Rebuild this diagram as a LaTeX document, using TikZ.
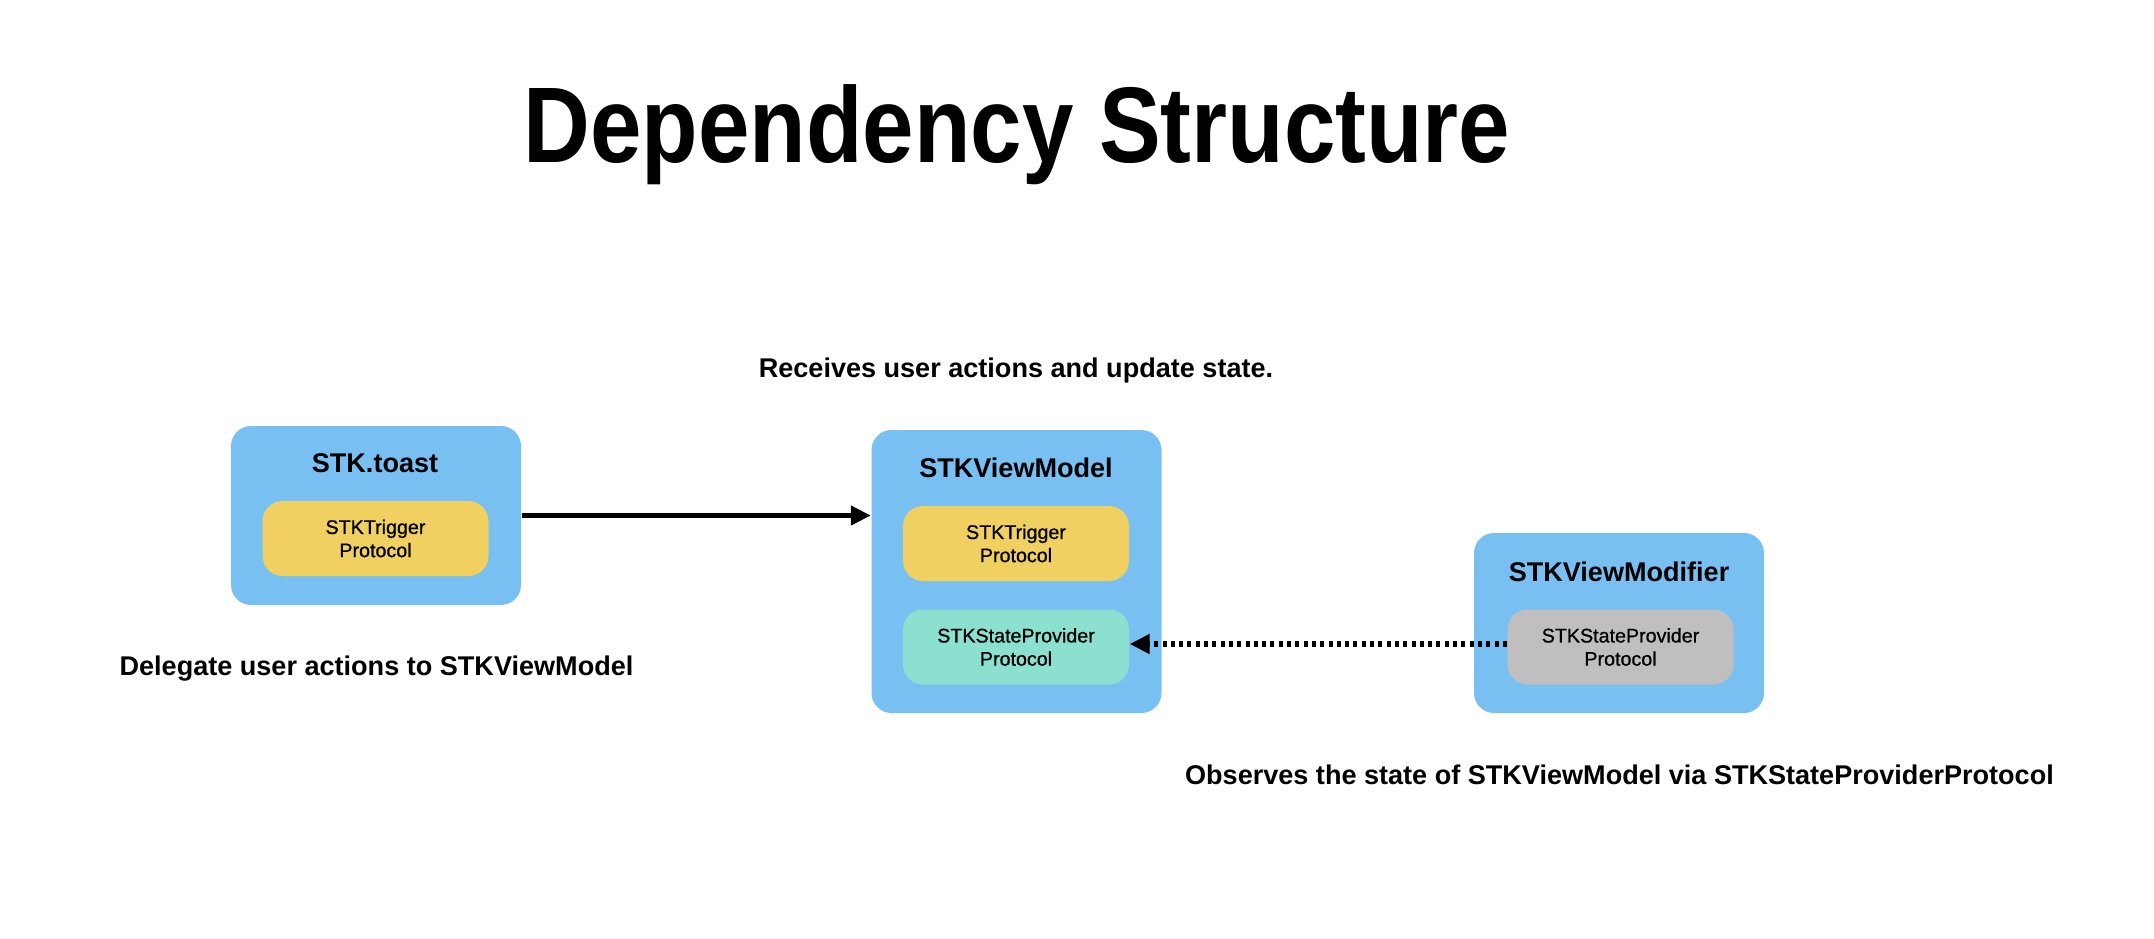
\documentclass[tikz,border=0pt]{standalone}
\usepackage{fontspec}
\setmainfont{Liberation Sans}
\newfontfamily\titlefont[FakeStretch=0.86]{Liberation Sans}
\newfontfamily\subfont[FakeBold=0.8]{Liberation Sans}
\usetikzlibrary{arrows.meta}

\definecolor{boxblue}{RGB}{121,192,242}
\definecolor{trigyellow}{RGB}{240,208,96}
\definecolor{stateteal}{RGB}{140,224,208}
\definecolor{modgray}{RGB}{191,191,191}

\begin{document}
\begin{tikzpicture}[->,>={Triangle[length=0.2cm,width=0.19cm]},
  main node/.style={rectangle,rounded corners=0.2cm,fill=boxblue,minimum width=2.9cm,inner sep=0pt},
  sub node/.style={rectangle,rounded corners=0.2cm,minimum width=2.26cm,minimum height=0.75cm,inner sep=0pt,align=center,font=\subfont\fontsize{5.6}{6.6}\selectfont},
  head node/.style={font=\fontsize{7.7}{9}\selectfont\bfseries},
  note node/.style={font=\fontsize{7.7}{9}\selectfont\bfseries}]

  \useasboundingbox (0,0) rectangle (21.54,-9.38);

  \node[anchor=base,font=\titlefont\fontsize{30.6}{34}\selectfont\bfseries] (0) at (10.17,-1.62) {Dependency Structure};

  \node[main node,minimum height=1.79cm] (1) at (3.76,-5.155) {};
  \node[main node,minimum height=2.83cm] (2) at (10.165,-5.715) {};
  \node[main node,minimum height=1.8cm] (3) at (16.19,-6.23) {};

  \node[head node] (1t) at (3.75,-4.63) {STK.toast};
  \node[head node] (2t) at (10.16,-4.68) {STKViewModel};
  \node[head node] (3t) at (16.19,-5.72) {STKViewModifier};

  \node[sub node,fill=trigyellow] (4) at (3.755,-5.385) {STKTrigger\\Protocol};
  \node[sub node,fill=trigyellow] (5) at (10.16,-5.435) {STKTrigger\\Protocol};
  \node[sub node,fill=stateteal] (6) at (10.16,-6.47) {STKStateProvider\\Protocol};
  \node[sub node,fill=modgray] (7) at (16.205,-6.47) {STKStateProvider\\Protocol};

  \node[note node] (8) at (10.16,-3.70) {Receives user actions and update state.};
  \node[note node] (9) at (3.765,-6.69) {Delegate user actions to STKViewModel};
  \node[note node] (10) at (16.195,-7.75) {Observes the state of STKViewModel via STKStateProviderProtocol};

  \path[line width=0.043cm]
    (1.east) edge (1.east -| 2.west)
    ;

  \path[line width=0.055cm,dash pattern=on 0.04cm off 0.043cm]
    ([yshift=0.03cm]7.west) edge ([yshift=0.03cm]6.east)
    ;

\end{tikzpicture}
\end{document}
